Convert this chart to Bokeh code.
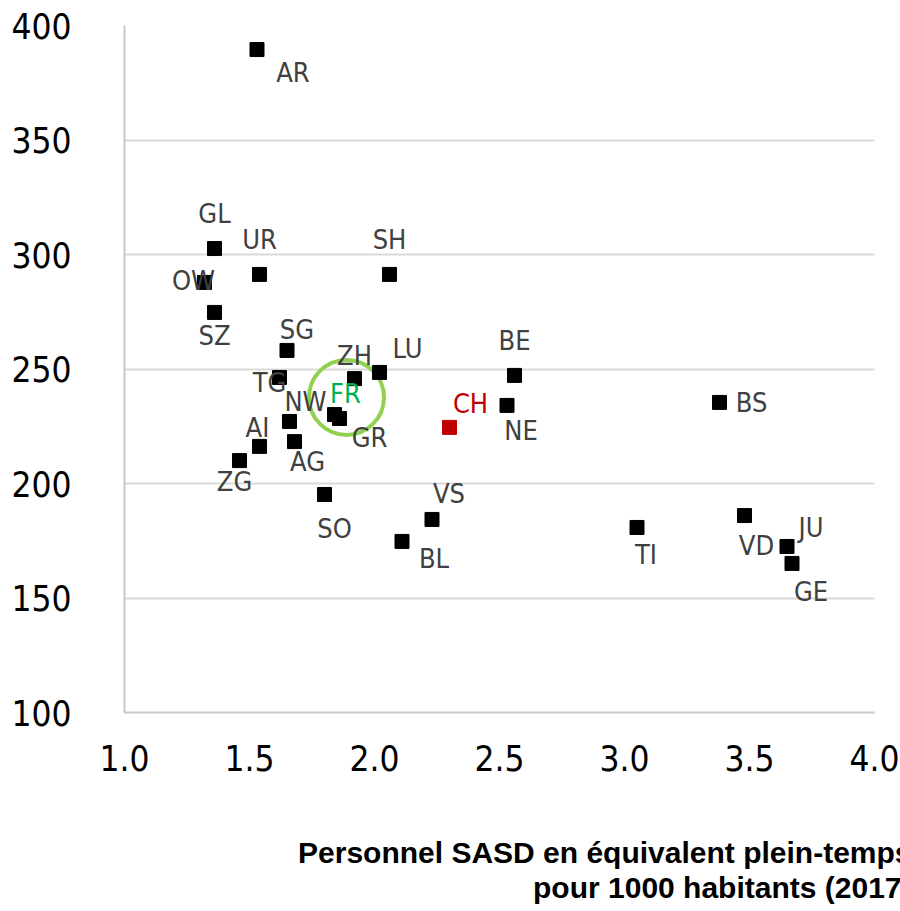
from bokeh.plotting import figure
from bokeh.models import ColumnDataSource, Range1d, FixedTicker, Title
from bokeh.core.properties import value
from bokeh.embed import file_html
from bokeh.resources import INLINE

# ---- data ----
cantons = ["AR", "GL", "UR", "SH", "OW", "SZ", "SG", "TG", "ZH", "LU", "NW", "FR", "GR",
           "AI", "AG", "ZG", "SO", "VS", "BL", "CH", "BE", "NE", "BS", "TI", "VD", "JU", "GE"]
personnel_sasd = [1.53, 1.36, 1.54, 2.06, 1.32, 1.36, 1.65, 1.62, 1.92, 2.02, 1.66, 1.84, 1.86,
                  1.54, 1.68, 1.46, 1.80, 2.23, 2.11, 2.30, 2.56, 2.53, 3.38, 3.05, 3.48, 3.65, 3.67]
valeur_y = [389.5, 302.6, 291.3, 291.3, 287.8, 274.7, 258.1, 246.3, 245.8, 248.5, 227.1, 230.1, 228.4,
            216.2, 218.3, 210.0, 195.2, 184.3, 174.7, 224.5, 247.2, 234.1, 235.4, 180.8, 186.0, 172.5, 165.1]
x_ticks = [1.0, 1.5, 2.0, 2.5, 3.0, 3.5, 4.0]
x_tick_labels = ["1.0", "1.5", "2.0", "2.5", "3.0", "3.5", "4.0"]
y_ticks = [100, 150, 200, 250, 300, 350, 400]
y_tick_labels = ["100", "150", "200", "250", "300", "350", "400"]
highlight_canton = "FR"
highlight_circle_x = [1.888]
highlight_circle_y = [237.6]
titre_x = ["Personnel SASD en équivalent plein-temps", "pour 1000 habitants (2017)"]

# ---- label placement (screen pixels, relative to each square) ----
label_dx = [36, 0, 0, 0, -11, 0, 10, -10, 0, 28, 16, 11, 30,
            -2, 13, -5, 10, 17, 32, 21, 0, 14, 32, 9, 12, 24, 19]
label_dy = [23, -35, -35, -35, -2, 23, -21, 5, -23, -24, -20, -21, 19,
            -19, 20, 21, 34, -26, 17, -24, -35, 25, 0, 27, 30, -19, 28]

RED = "#C00000"
GREEN_TXT = "#00B050"
GREEN_CIRCLE = "#92D050"
LABEL_GREY = "#404040"
NARROW = "DejaVu Sans Condensed"

marker_colors = [RED if c == "CH" else "black" for c in cantons]
text_colors = [RED if c == "CH" else (GREEN_TXT if c == highlight_canton else LABEL_GREY) for c in cantons]

src = ColumnDataSource(dict(x=personnel_sasd, y=valeur_y, name=cantons, mc=marker_colors,
                            tc=text_colors, dx=label_dx, dy=label_dy))

p = figure(width=900, height=911, output_backend="svg", toolbar_location=None,
           x_range=Range1d(1.0, 4.0), y_range=Range1d(100, 400),
           min_border_left=124, min_border_right=26, min_border_top=25, min_border_bottom=199)
p.outline_line_color = None
p.background_fill_color = "white"
p.border_fill_color = "white"

p.xgrid.grid_line_color = None
p.ygrid.grid_line_color = "#d9d9d9"
p.ygrid.grid_line_width = 2
p.ygrid.bounds = (100, 399)

for ax, ticks, labels in ((p.xaxis, x_ticks, x_tick_labels), (p.yaxis, y_ticks, y_tick_labels)):
    ax.ticker = FixedTicker(ticks=ticks)
    ax.major_label_overrides = {t: l for t, l in zip(ticks, labels)}
    ax.axis_line_color = "#c8c8c8"
    ax.axis_line_width = 2
    ax.major_tick_line_color = None
    ax.minor_tick_line_color = None
    ax.major_tick_out = 0
    ax.major_tick_in = 0
    ax.major_label_text_font = NARROW
    ax.major_label_text_font_size = "35px"
    ax.major_label_text_color = "black"
p.yaxis.major_label_standoff = 53
p.xaxis.major_label_standoff = 32
# invisible spacer label to push the two-line axis title further down
p.xaxis.axis_label = " "
p.xaxis.axis_label_text_font_size = "1px"
p.xaxis.axis_label_standoff = 56

p.scatter(x=highlight_circle_x, y=highlight_circle_y, marker="circle", size=75,
          fill_color=None, line_color=GREEN_CIRCLE, line_width=4)
p.scatter(x="x", y="y", source=src, marker="square", size=14,
          fill_color="mc", line_color="mc")
p.text(x="x", y="y", text="name", source=src, x_offset="dx", y_offset="dy",
       text_align="center", text_baseline="middle", text_color="tc",
       text_font=value(NARROW), text_font_size="27px")

for txt in titre_x:
    p.add_layout(Title(text=txt, align="right", offset=-37, standoff=0,
                       text_font="Liberation Sans", text_font_style="bold",
                       text_font_size="30px", text_color="black"), "below")

open("out.html", "w").write(file_html(p, INLINE))
